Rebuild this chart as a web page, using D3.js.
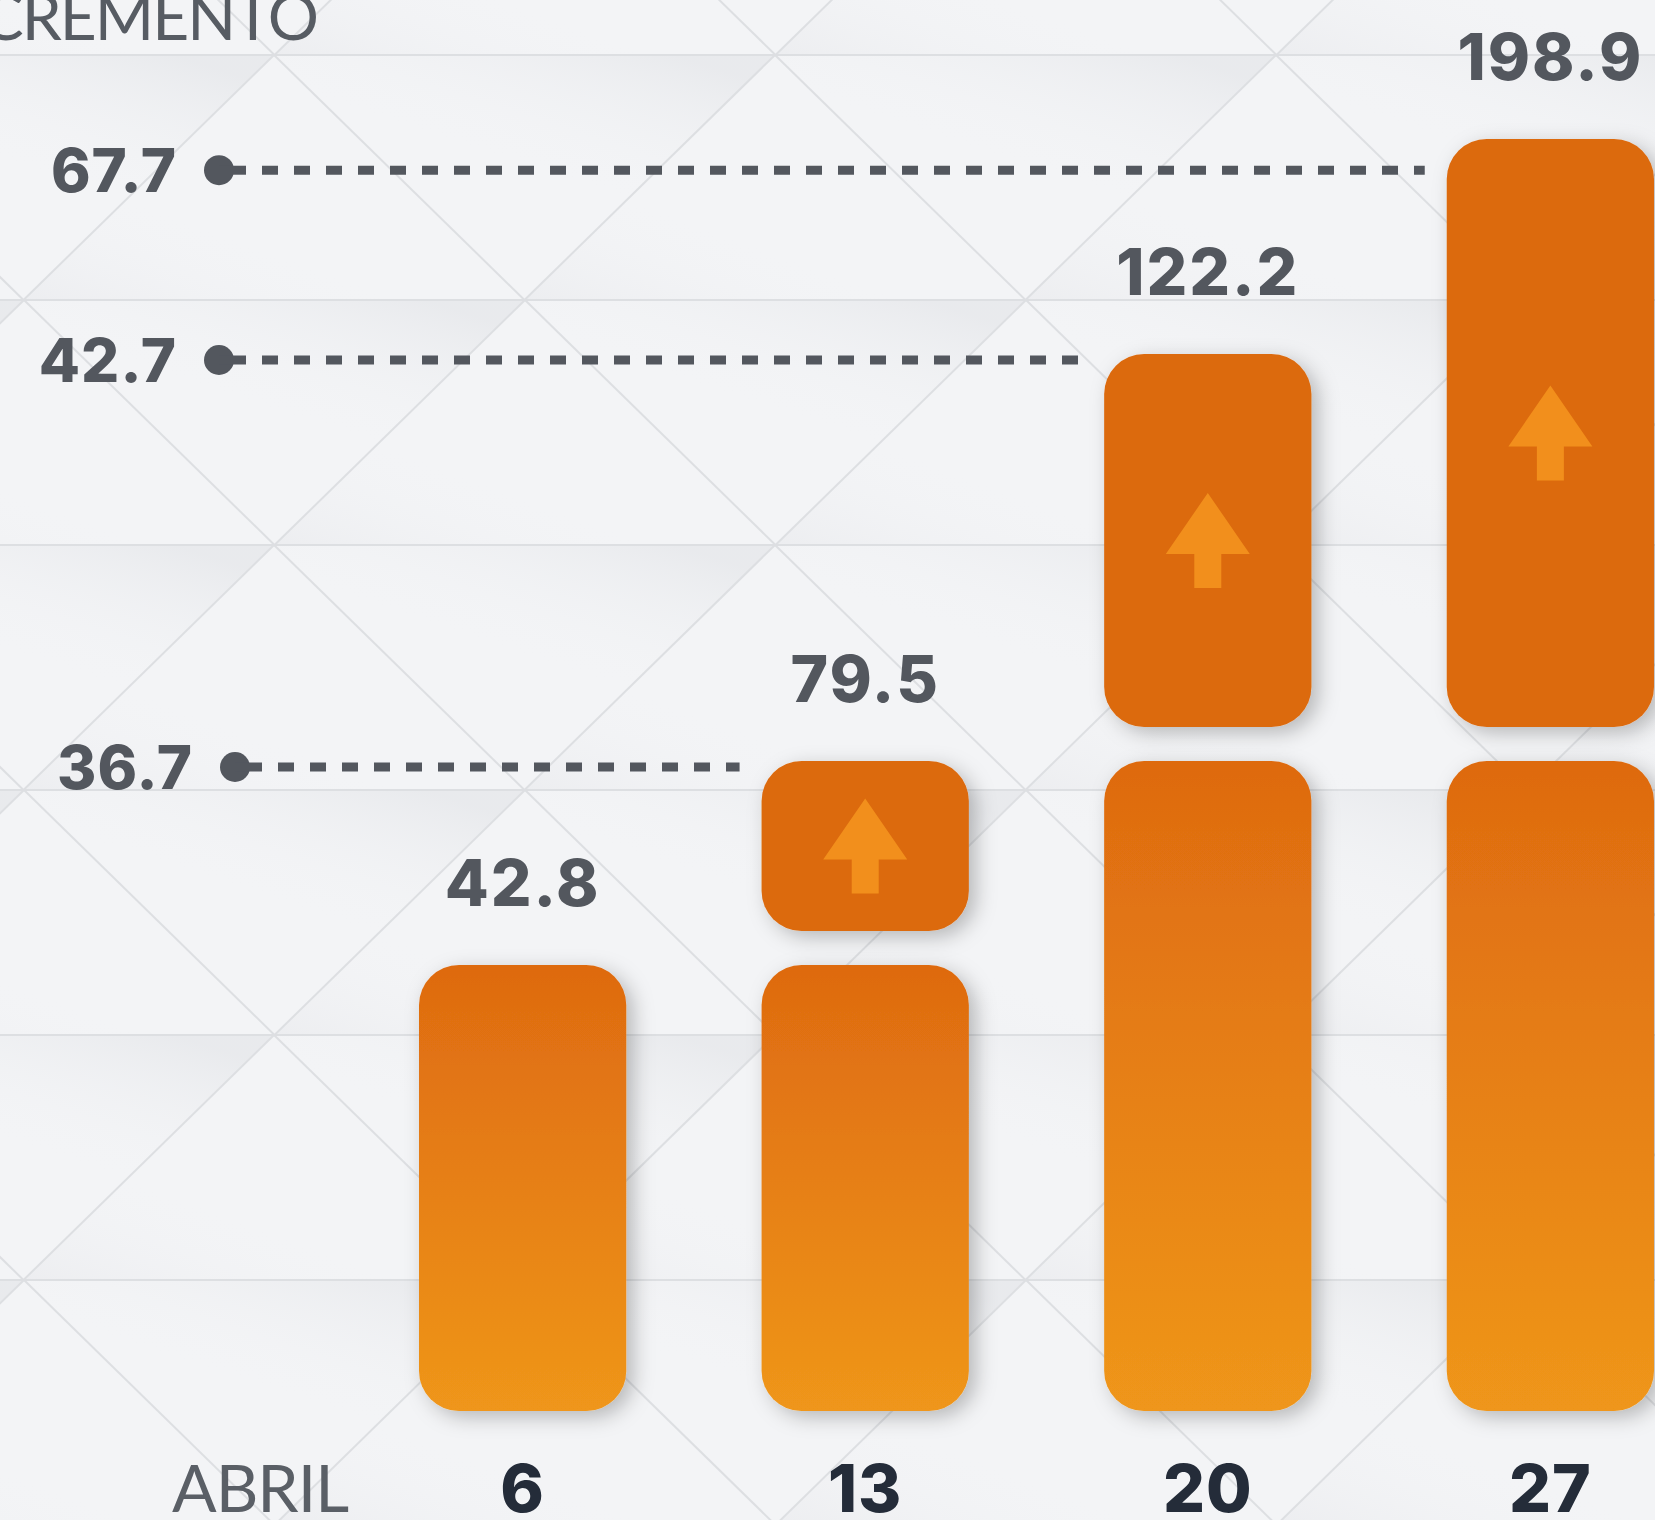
<!DOCTYPE html>
<html>
<head>
<meta charset="utf-8">
<script src="https://cdn.jsdelivr.net/npm/d3@7"></script>
<style>
  html, body { margin: 0; padding: 0; background: #f2f3f5; }
  svg { display: block; }
</style>
</head>
<body>
<div id="chart"></div>
<script>
// weeks of April
var weeks = ["6", "13", "20", "27"];
// total shown on top of each bar
var totals = [42.8, 79.5, 122.2, 198.9];
// value of the lower (gradient) bar, as drawn
var bases = [42.8, 42.8, 79.5, 79.5];
// weekly increment (upper box), none for the first week
var increments = [null, 36.7, 42.7, 67.7];
// scale breakpoints (the infographic is not drawn to one linear scale)
var scaleStops = [0, 42.8, 79.5, 122.2, 198.9];

var width = 1655, height = 1520;
var baseline = 1411;
var gap = 34;          // space between lower bar and increment box
var radius = 40;

var textGray = "#53575e";
var navy = "#242c39";
var lightFont = "Lato, 'Noto Sans', sans-serif";
var boldFont = "Inter, Lato, 'Noto Sans', sans-serif";

var svg = d3.select("#chart").append("svg")
  .attr("width", width)
  .attr("height", height);

var defs = svg.append("defs");

var grad = defs.append("linearGradient")
  .attr("id", "barGrad")
  .attr("x1", 0).attr("y1", 0).attr("x2", 0).attr("y2", 1);
grad.append("stop").attr("offset", "0%").attr("stop-color", "#de6a10");
grad.append("stop").attr("offset", "100%").attr("stop-color", "#ef961a");

// soft shading for the folded-paper triangles
var shadeDown = defs.append("linearGradient")
  .attr("id", "shadeDown")
  .attr("x1", 0.8).attr("y1", 0).attr("x2", 0.5).attr("y2", 0.45);
shadeDown.append("stop").attr("offset", "0%").attr("stop-color", "#dcdee2").attr("stop-opacity", 0.45);
shadeDown.append("stop").attr("offset", "100%").attr("stop-color", "#f2f3f5").attr("stop-opacity", 0);

var shadeUp = defs.append("linearGradient")
  .attr("id", "shadeUp")
  .attr("x1", 0).attr("y1", 1).attr("x2", 0.3).attr("y2", 0.6);
shadeUp.append("stop").attr("offset", "0%").attr("stop-color", "#e0e1e5").attr("stop-opacity", 0.35);
shadeUp.append("stop").attr("offset", "100%").attr("stop-color", "#f5f6f8").attr("stop-opacity", 0);

var shadow = defs.append("filter")
  .attr("id", "shadow")
  .attr("x", "-20%").attr("y", "-20%").attr("width", "150%").attr("height", "150%");
shadow.append("feDropShadow")
  .attr("dx", 7).attr("dy", 6)
  .attr("stdDeviation", 10)
  .attr("flood-color", "#000")
  .attr("flood-opacity", 0.25);

// ---- background triangle pattern ----
var bg = svg.append("g");
bg.append("rect").attr("width", width).attr("height", height).attr("fill", "#f3f4f6");

var rowH = 245, colW = 501;
var segs = [], tris = [];
for (var i = -1; i <= 7; i++) {
  var yy = 55 + rowH * i;
  var off = (((i % 2) + 2) % 2 === 0) ? 274 : 24;
  segs.push([-10, yy, width + 10, yy]);
  for (var k = -1; k <= 4; k++) {
    var xx = off + colW * k;
    segs.push([xx, yy, xx + colW / 2, yy + rowH]);
    segs.push([xx, yy, xx - colW / 2, yy + rowH]);
    tris.push({ kind: "down", pts: [[xx, yy], [xx + colW, yy], [xx + colW / 2, yy + rowH]] });
    tris.push({ kind: "up", pts: [[xx, yy], [xx + colW / 2, yy + rowH], [xx - colW / 2, yy + rowH]] });
  }
}

bg.append("g").selectAll("path")
  .data(tris)
  .enter().append("path")
    .attr("d", function(d) { return "M" + d.pts.join("L") + "Z"; })
    .attr("fill", function(d) { return d.kind === "down" ? "url(#shadeDown)" : "url(#shadeUp)"; });

bg.append("g")
  .selectAll("line")
  .data(segs)
  .enter().append("line")
    .attr("x1", function(d) { return d[0]; })
    .attr("y1", function(d) { return d[1]; })
    .attr("x2", function(d) { return d[2]; })
    .attr("y2", function(d) { return d[3]; })
    .attr("stroke", "#dddfe2")
    .attr("stroke-width", 2);

// ---- scales ----
var x = d3.scaleBand()
  .domain(weeks)
  .range([419, 1654])
  .paddingInner(0.395)
  .paddingOuter(0);

var y = d3.scaleLinear()
  .domain(scaleStops)
  .range([baseline, 965, 761, 354, 139]);

var data = weeks.map(function(w, i) {
  return { week: w, total: totals[i], base: bases[i], inc: increments[i], prev: i > 0 ? totals[i - 1] : 0 };
});

// ---- title (runs off the top-left corner) ----
svg.append("text")
  .attr("x", 317).attr("y", 40)
  .attr("text-anchor", "end")
  .style("font-family", lightFont)
  .style("font-weight", 400)
  .style("font-size", "64px")
  .style("letter-spacing", "-2px")
  .style("fill", "#575c63")
  .text("INCREMENTO");

// ---- increment reference lines ----
var refLines = data.filter(function(d) { return d.inc !== null; });
var labelEnd = { "13": 193, "20": 177, "27": 177 };

var refs = svg.append("g").selectAll("g")
  .data(refLines)
  .enter().append("g");

function lineY(d) { return y(d.prev + d.inc) + 6; }
function dotX(d) { return labelEnd[d.week] + 42; }

refs.append("text")
  .attr("x", function(d) { return labelEnd[d.week]; })
  .attr("y", function(d) { return lineY(d) + 22; })
  .attr("text-anchor", "end")
  .style("font-family", boldFont)
  .style("font-weight", 800)
  .style("font-size", "60px")
  .style("letter-spacing", "1px")
  .style("fill", textGray)
  .text(function(d) { return d.inc.toFixed(1); });

refs.append("circle")
  .attr("cx", dotX)
  .attr("cy", lineY)
  .attr("r", 15)
  .attr("fill", textGray);

refs.append("line")
  .attr("x1", dotX)
  .attr("x2", function(d) { return dotX(d) + 27; })
  .attr("y1", lineY).attr("y2", lineY)
  .attr("stroke", textGray)
  .attr("stroke-width", 9);

refs.append("line")
  .attr("x1", function(d) { return dotX(d) + 43; })
  .attr("x2", function(d) { return x(d.week) - 22; })
  .attr("y1", lineY).attr("y2", lineY)
  .attr("stroke", textGray)
  .attr("stroke-width", 9)
  .attr("stroke-dasharray", "16,16");

// ---- bars ----
var bars = svg.append("g").selectAll("g")
  .data(data)
  .enter().append("g");

bars.append("rect")
  .attr("x", function(d) { return x(d.week); })
  .attr("y", function(d) { return y(d.base); })
  .attr("width", x.bandwidth())
  .attr("height", function(d) { return baseline - y(d.base); })
  .attr("rx", radius).attr("ry", radius)
  .attr("fill", "url(#barGrad)")
  .attr("filter", "url(#shadow)");

var boxes = bars.filter(function(d) { return d.inc !== null; });

boxes.append("rect")
  .attr("x", function(d) { return x(d.week); })
  .attr("y", function(d) { return y(d.total); })
  .attr("width", x.bandwidth())
  .attr("height", function(d) { return y(d.base) - gap - y(d.total); })
  .attr("rx", radius).attr("ry", radius)
  .attr("fill", "#dc6a10")
  .attr("filter", "url(#shadow)");

// up arrow centred in each increment box
boxes.append("path")
  .attr("transform", function(d) {
    var cx = x(d.week) + x.bandwidth() / 2;
    var cy = (y(d.total) + y(d.base) - gap) / 2;
    return "translate(" + cx + "," + cy + ")";
  })
  .attr("d", "M0,-47.5 L42,13.5 L13.5,13.5 L13.5,47.5 L-13.5,47.5 L-13.5,13.5 L-42,13.5 Z")
  .attr("fill", "#f28f1c");

// value labels
bars.append("text")
  .attr("x", function(d) { return x(d.week) + x.bandwidth() / 2; })
  .attr("y", function(d) { return y(d.total) - 59; })
  .attr("text-anchor", "middle")
  .style("font-family", boldFont)
  .style("font-weight", 800)
  .style("font-size", "64px")
  .style("letter-spacing", "2px")
  .style("fill", textGray)
  .text(function(d) { return d.total.toFixed(1); });

// ---- x axis labels ----
svg.append("text")
  .attr("x", 260).attr("y", 1512)
  .attr("text-anchor", "middle")
  .style("font-family", lightFont)
  .style("font-weight", 400)
  .style("font-size", "66px")
  .style("letter-spacing", "-1px")
  .style("fill", "#5a5f66")
  .text("ABRIL");

svg.append("g").selectAll("text")
  .data(weeks)
  .enter().append("text")
    .attr("x", function(d) { return x(d) + x.bandwidth() / 2; })
    .attr("y", 1512)
    .attr("text-anchor", "middle")
    .style("font-family", boldFont)
    .style("font-weight", 800)
    .style("font-size", "66px")
    .style("letter-spacing", "1px")
    .style("fill", navy)
    .text(function(d) { return d; });
</script>
</body>
</html>
